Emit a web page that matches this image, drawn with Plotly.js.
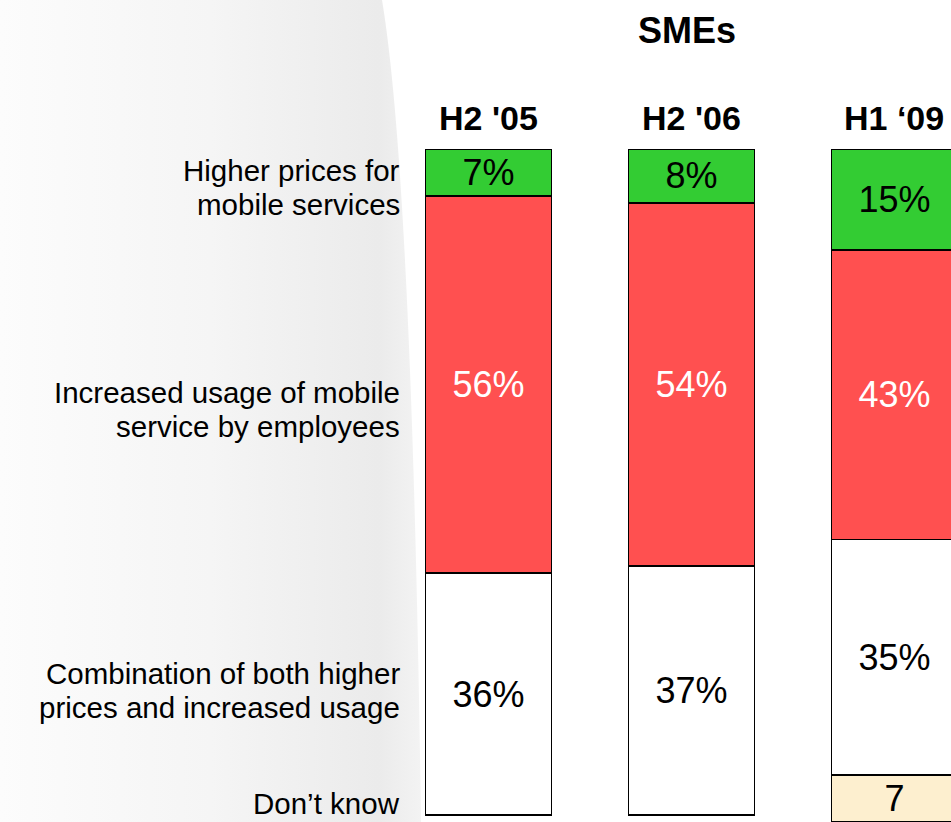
<!DOCTYPE html>
<html>
<head>
<meta charset="utf-8">
<script src="https://cdn.plot.ly/plotly-3.0.1.min.js"></script>
<style>
  html, body { margin: 0; padding: 0; background: #ffffff; overflow: hidden; width: 951px; height: 822px; }
  #bg { position: absolute; left: 0; top: 0; z-index: 0; }
  #chart { position: absolute; left: 0; top: 0; width: 951px; height: 830px; z-index: 1; }
</style>
</head>
<body>
<svg id="bg" width="951" height="822" xmlns="http://www.w3.org/2000/svg">
  <defs>
    <linearGradient id="g" x1="0" y1="0" x2="1" y2="0">
      <stop offset="0" stop-color="#fcfcfc"/>
      <stop offset="0.5" stop-color="#f5f5f5"/>
      <stop offset="0.9" stop-color="#ebebeb"/>
      <stop offset="1" stop-color="#f3f3f3"/>
    </linearGradient>
  </defs>
  <path d="M0,0 L382,0 Q412,180 421,822 L0,822 Z" fill="url(#g)"/>
</svg>
<div id="chart"></div>
<script>
// ---- data ----
const categories = ["H2 '05", "H2 '06", "H1 \u201809"];
const higherPrices = [7, 8, 15];
const increasedUsage = [56, 54, 43];
const combination = [36, 37, 35];
const dontKnow = [1, 1, 7];
const seriesNames = ["Higher prices for mobile services", "Increased usage of mobile service by employees", "Combination of both higher prices and increased usage", "Don\u2019t know"];
const rowLabelLines = [
  ["Higher prices for", "mobile services"],
  ["Increased usage of mobile", "service by employees"],
  ["Combination of both higher", "prices and increased usage"],
  ["Don\u2019t know"]
];
const title = "SMEs";

// ---- styling ----
const FONT = "Liberation Sans, Arial, Helvetica, sans-serif";
const barWidth = 0.62;
const lineStyle = { color: "#000000", width: 1.5 };

function barTrace(vals, name, fill, textColor, fmt) {
  return {
    type: "bar",
    x: categories,
    y: vals,
    name: name,
    width: barWidth,
    marker: { color: fill, line: lineStyle },
    text: vals.map(fmt),
    textposition: "inside",
    insidetextanchor: "middle",
    textangle: 0,
    constraintext: "none",
    textfont: { family: FONT, size: 36, color: textColor },
    hoverinfo: "name+y"
  };
}

const pct = v => v + "%";
const traces = [
  barTrace(higherPrices, seriesNames[0], "#33cc33", "#000000", pct),
  barTrace(increasedUsage, seriesNames[1], "#ff5050", "#ffffff", pct),
  barTrace(combination, seriesNames[2], "#ffffff", "#000000", pct),
  {
    type: "bar",
    x: categories,
    y: dontKnow,
    name: seriesNames[3],
    width: barWidth,
    marker: {
      color: dontKnow.map(v => v >= 5 ? "#fdefcf" : "rgba(0,0,0,0)"),
      line: { color: "#000000", width: dontKnow.map(v => v >= 5 ? 1.5 : 0) }
    },
    text: dontKnow.map(v => v >= 5 ? String(v) : ""),
    textposition: "inside",
    insidetextanchor: "middle",
    textangle: 0,
    constraintext: "none",
    textfont: { family: FONT, size: 36, color: "#000000" },
    hoverinfo: "name+y"
  }
];

// row label positions (value-space centres of each text line)
const rowLineY = [[3.2, 8.2], [36.2, 41.2], [78.0, 83.0], [97.2]];

const annotations = [];
rowLabelLines.forEach((lines, i) => {
  lines.forEach((ln, j) => {
    annotations.push({
      text: ln, xref: "paper", x: -0.034, xanchor: "right",
      yref: "y", y: rowLineY[i][j], yanchor: "middle",
      showarrow: false, font: { family: FONT, size: 29.5, color: "#000000" }
    });
  });
});
categories.forEach(c => {
  annotations.push({
    text: "<b>" + c + "</b>", xref: "x", x: c, xanchor: "center",
    yref: "paper", y: 1, yanchor: "middle", yshift: 31,
    showarrow: false, font: { family: FONT, size: 34, color: "#000000" }
  });
});
annotations.push({
  text: "<b>" + title + "</b>", xref: "paper", x: 0.503, xanchor: "center",
  yref: "paper", y: 1, yanchor: "middle", yshift: 119,
  showarrow: false, font: { family: FONT, size: 36, color: "#000000" }
});

const layout = {
  width: 951, height: 830,
  margin: { l: 420, r: 0, t: 149, b: 0, pad: 0 },
  barmode: "stack",
  showlegend: false,
  paper_bgcolor: "rgba(0,0,0,0)",
  plot_bgcolor: "rgba(0,0,0,0)",
  xaxis: { type: "category", range: [-0.3374, 2.2784], visible: false, fixedrange: true },
  yaxis: { range: [101.2, 0], visible: false, fixedrange: true },
  annotations: annotations,
  font: { family: FONT }
};

Plotly.newPlot("chart", traces, layout, { displayModeBar: false, staticPlot: true });
</script>
</body>
</html>
